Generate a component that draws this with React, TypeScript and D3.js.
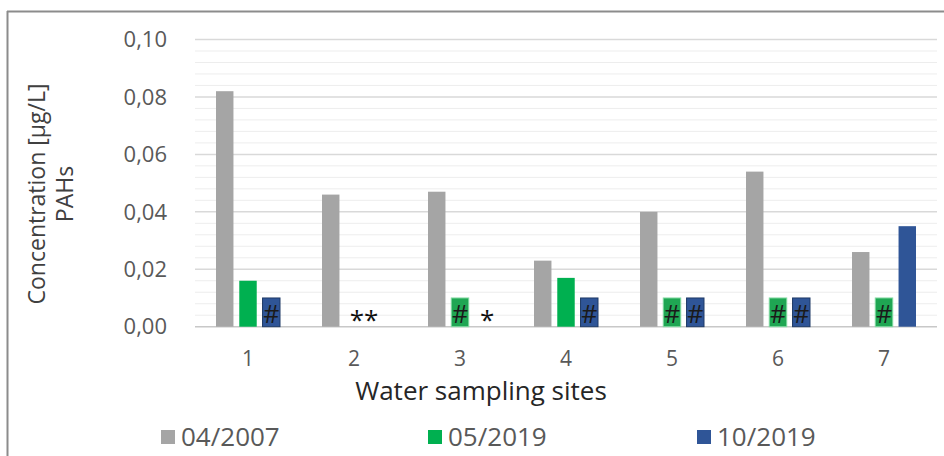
import React from "react";
import * as d3 from "d3";

const sites = ["1", "2", "3", "4", "5", "6", "7"];
const seriesNames = ["04/2007", "05/2019", "10/2019"];
const seriesColors = ["#a5a5a5", "#00b050", "#2f5597"];
const values2007 = [0.082, 0.046, 0.047, 0.023, 0.04, 0.054, 0.026];
const values052019: (number | null)[] = [0.016, null, 0.01, 0.017, 0.01, 0.01, 0.01];
const values102019: (number | null)[] = [0.01, null, null, 0.01, 0.01, 0.01, 0.035];
const hash2007 = [false, false, false, false, false, false, false];
const hash052019 = [false, false, true, false, true, true, true];
const hash102019 = [true, false, false, true, true, true, false];
const notes = ["", "**", "*", "", "", "", ""];
const yTicks = [0, 0.02, 0.04, 0.06, 0.08, 0.1];
const yMinorStep = 0.004;

const W = 944;
const H = 456;
const FONT = "'Open Sans', sans-serif";

export default function App() {
  const x = d3.scaleBand<string>().domain(sites).range([195, 937]).padding(0);
  const xi = d3.scaleBand<string>().domain(seriesNames).range([-32, 32]).paddingInner(0.25);
  const y = d3.scaleLinear().domain([0, 0.1]).range([326.7, 39.5]);
  const fmt = (v: number) => d3.format(".2f")(v).replace(".", ",");

  const allValues = [values2007, values052019, values102019];
  const allHash = [hash2007, hash052019, hash102019];
  const minorTicks = d3.range(0, 0.1 + 1e-9, yMinorStep).filter(
    (v) => !yTicks.some((t) => Math.abs(t - v) < 1e-9)
  );

  const [x0, x1] = x.range();
  const bw = xi.bandwidth();

  return (
    <svg
      width={W}
      height={H}
      style={{ position: "absolute", left: 0, top: 0, background: "#fff" }}
      fontFamily={FONT}
    >
      <rect x={0} y={0} width={W} height={H} fill="#fff" />
      {/* frame */}
      <line x1={7} x2={W} y1={11.5} y2={11.5} stroke="#8c8c8c" strokeWidth={2} />
      <line x1={7.5} x2={7.5} y1={11} y2={H} stroke="#8c8c8c" strokeWidth={2} />

      {/* minor grid */}
      {minorTicks.map((v, i) => (
        <line key={"m" + i} x1={x0} x2={x1} y1={y(v)} y2={y(v)} stroke="#ededed" strokeWidth={1} />
      ))}
      {/* major grid */}
      {yTicks.map((v, i) => (
        <line
          key={"g" + i}
          x1={x0}
          x2={x1}
          y1={y(v)}
          y2={y(v)}
          stroke={v === 0 ? "#c8c8c8" : "#d9d9d9"}
          strokeWidth={1.5}
        />
      ))}
      {/* y tick labels */}
      {yTicks.map((v, i) => (
        <text
          key={"yt" + i}
          x={167}
          y={y(v)}
          dy="0.35em"
          textAnchor="end"
          fontSize={22}
          fill="#595959"
        >
          {fmt(v)}
        </text>
      ))}

      {/* bars */}
      {sites.map((s, si) =>
        seriesNames.map((name, k) => {
          const v = allValues[k][si];
          if (v == null) return null;
          const bx = (x(s) as number) + x.bandwidth() / 2 + (xi(name) as number);
          const hashed = allHash[k][si];
          return (
            <g key={s + name}>
              <rect
                x={bx}
                y={y(v)}
                width={bw}
                height={y(0) - y(v)}
                fill={hashed && k === 1 ? "#1fa653" : seriesColors[k]}
                stroke={hashed ? (k === 1 ? "#7fd9a0" : "#1f3a66") : "none"}
                strokeWidth={hashed ? 1 : 0}
              />
              {hashed && (
                <text
                  x={bx + bw / 2}
                  y={y(0) - 4}
                  textAnchor="middle"
                  fontSize={25}
                  fill="#1a1a1a"
                >
                  #
                </text>
              )}
            </g>
          );
        })
      )}

      {/* notes for missing data */}
      {sites.map((s, si) => {
        const n = notes[si];
        if (!n) return null;
        const c = (x(s) as number) + x.bandwidth() / 2;
        const cx = n.length === 2 ? c + 10 : c + (xi("10/2019") as number) + bw / 2 + 4;
        return (
          <text
            key={"n" + si}
            x={cx}
            y={y(0) + 2}
            textAnchor="middle"
            fontSize={26}
            fill="#111"
          >
            {n}
          </text>
        );
      })}

      {/* x tick labels */}
      {sites.map((s) => (
        <text
          key={"xt" + s}
          x={(x(s) as number) + x.bandwidth() / 2}
          y={366}
          textAnchor="middle"
          fontSize={21}
          fill="#595959"
        >
          {s}
        </text>
      ))}

      {/* axis titles */}
      <text x={481} y={400} textAnchor="middle" fontSize={26} fill="#262626">
        Water sampling sites
      </text>
      <text
        transform="translate(45,194) rotate(-90)"
        textAnchor="middle"
        fontSize={23}
        fill="#404040"
      >
        Concentration [µg/L]
      </text>
      <text
        transform="translate(73,194) rotate(-90)"
        textAnchor="middle"
        fontSize={23}
        fill="#404040"
      >
        PAHs
      </text>

      {/* legend */}
      {seriesNames.map((name, k) => {
        const lx = [161, 428, 697][k];
        return (
          <g key={"lg" + name}>
            <rect x={lx} y={430} width={14} height={14} fill={seriesColors[k]} />
            <text x={lx + 20} y={446} fontSize={26} fill="#595959">
              {name}
            </text>
          </g>
        );
      })}
    </svg>
  );
}
